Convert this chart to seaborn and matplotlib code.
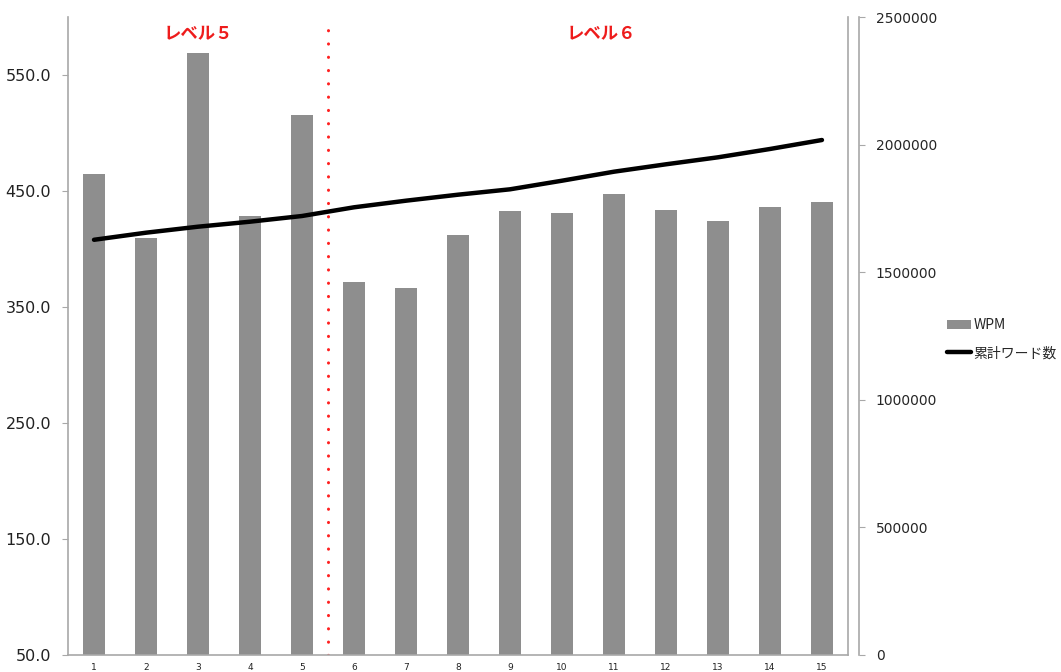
import numpy as np
import pandas as pd
import matplotlib
matplotlib.use("Agg")
import matplotlib.pyplot as plt
from matplotlib.patches import Patch
from matplotlib.lines import Line2D
import seaborn as sns

# Session numbers, reading speed and cumulative word count
sessions = [str(i) for i in range(1, 16)]
wpm = [465, 409.5, 569, 428.7, 515.3, 371.3, 366, 412.3, 432.4, 431.2,
       447.6, 433.8, 423.8, 436.1, 440.1]
cumulative_words = [1627000, 1654800, 1678300, 1697900, 1720200, 1754300,
                    1780200, 1803700, 1824800, 1858500, 1893800, 1922800,
                    1950200, 1982800, 2018000]
left_ticks = [50, 150, 250, 350, 450, 550]
right_ticks = [0, 500000, 1000000, 1500000, 2000000, 2500000]
level_labels = ["レベル５", "レベル６"]
level_split = 5  # sessions 1-5 are level 5, the rest level 6

sns.set_style("white")
plt.rcParams["font.family"] = ["DejaVu Sans", "Noto Sans CJK JP"]

df = pd.DataFrame({"session": sessions, "wpm": wpm,
                   "words": cumulative_words})

fig = plt.figure(figsize=(10.61, 6.72), dpi=100)
ax = fig.add_axes([0.0641, 0.0253, 0.7351, 0.9494])

bar_color = "#8e8e8e"
axis_color = "#a8a8a8"

sns.barplot(data=df, x="session", y="wpm", color=bar_color, width=0.41,
            saturation=1, linewidth=0, ax=ax)
ax.set_xlim(-0.5, len(sessions) - 0.5)
ax.set_ylim(50, 600)
ax.set_yticks(left_ticks)
ax.set_yticklabels([f"{v:.1f}" for v in left_ticks], fontsize=11.5,
                   color="#222222")
ax.set_xlabel("")
ax.set_ylabel("")
ax.tick_params(axis="x", length=0, labelsize=6.5, pad=6, colors="#222222")
ax.set_xticks(np.arange(-0.5, len(sessions)), minor=True)
ax.tick_params(axis="x", which="minor", length=3.5, color=axis_color,
               direction="out")
ax.tick_params(axis="y", length=4, color=axis_color, direction="out",
               pad=8)

for side in ["left", "bottom", "right"]:
    ax.spines[side].set_color(axis_color)
    ax.spines[side].set_linewidth(1.2)
ax.spines["top"].set_visible(False)

# Level boundary and level names
ax.axvline(level_split - 0.5, color="#ff2020", lw=2.2,
           linestyle=(0, (0.05, 4.3)), dash_capstyle="round")
ax.text((level_split - 1) / 2, 585, level_labels[0], color="#ee1c1c",
        fontsize=12.5, fontweight="bold", ha="center", va="center",
        family=["Noto Sans CJK JP"])
ax.text((level_split + len(sessions) - 1) / 2 + 0.25, 585, level_labels[1],
        color="#ee1c1c", fontsize=12.5, fontweight="bold", ha="center",
        va="center", family=["Noto Sans CJK JP"])

# Cumulative word count on the secondary axis
ax2 = ax.twinx()
sns.lineplot(x=np.arange(len(sessions)), y=cumulative_words, color="black",
             lw=3.2, ax=ax2, solid_capstyle="round")
ax2.set_ylim(0, 2500000)
ax2.set_yticks(right_ticks)
ax2.set_yticklabels([str(v) for v in right_ticks], fontsize=11.5,
                    color="#222222")
ax2.tick_params(axis="y", length=4, color=axis_color, direction="out",
                pad=8)
for side in ["left", "top", "bottom"]:
    ax2.spines[side].set_visible(False)
ax2.spines["right"].set_position(("outward", 8))
ax2.spines["right"].set_color(axis_color)
ax2.spines["right"].set_linewidth(1.2)

handles = [Patch(facecolor=bar_color, edgecolor="none", label="WPM"),
           Line2D([0], [0], color="black", lw=3.2, label="累計ワード数")]
fig.legend(handles=handles, loc="center left",
           bbox_to_anchor=(0.881, 0.495), frameon=False,
           prop={"family": ["Noto Sans CJK JP"], "size": 10},
           handlelength=1.7, handletextpad=0.2, labelspacing=1.0)

fig.savefig("out.png", dpi=100)
